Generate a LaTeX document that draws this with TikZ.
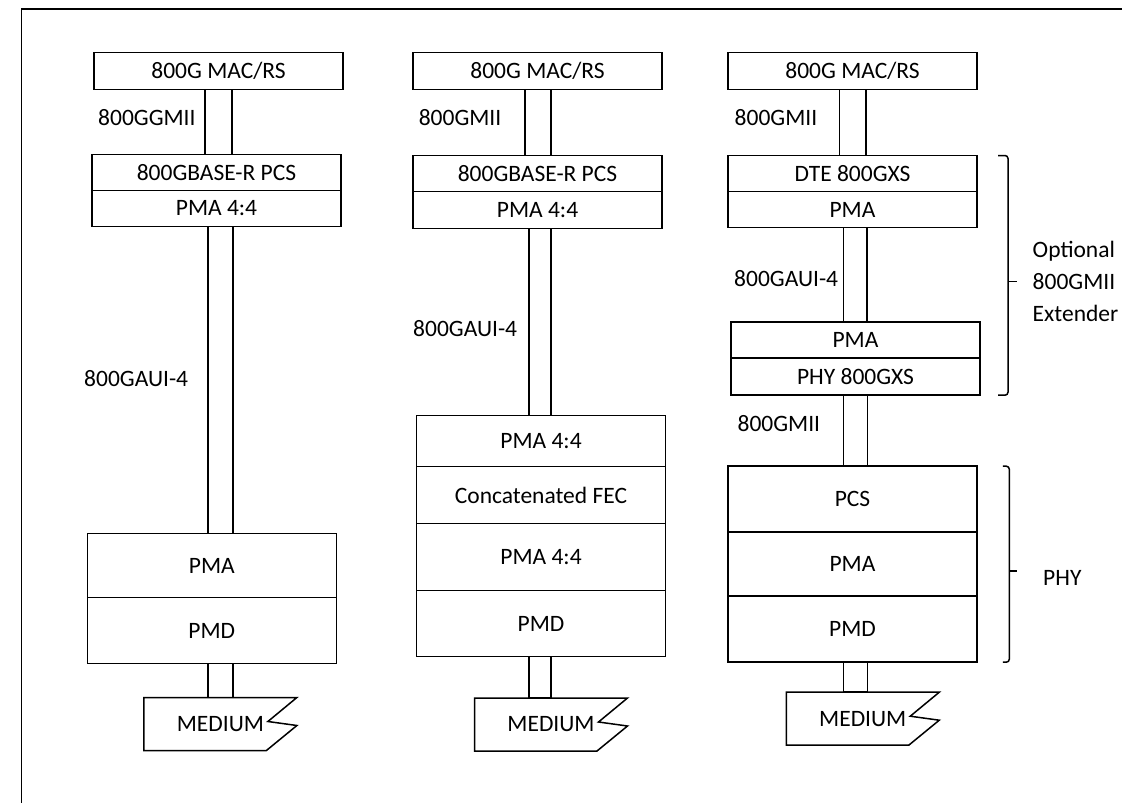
\documentclass[tikz,border=0pt]{standalone}
\usepackage{fontspec}
\setmainfont{Carlito}
\usetikzlibrary{positioning,calc}
\newcommand{\mediumoutline}[1]{%
  \draw[bar] (#1.north west) -- (#1.north east) -- ++(-29,24) -- ++(29,4)
    -- ($(#1.south east)+(-30.5,0)$) -- (#1.south west) -- cycle;}

\begin{document}
\begin{tikzpicture}[
  x=1pt, y=-1pt,
  font=\fontsize{23.5}{32}\selectfont,
  layer/.style={draw,line width=1.5pt,minimum width=249pt,inner sep=0pt,
                outer sep=0pt,align=center},
  slim/.style={layer,minimum height=36pt},
  bar/.style={draw,line width=1.5pt},
  iflabel/.style={anchor=west,inner sep=0pt},
  medium/.style={minimum width=153pt,minimum height=53pt,inner sep=0pt,outer sep=0pt},
  brace/.style={draw,line width=1.5pt,rounded corners=3pt}
]
\useasboundingbox (0,0) rectangle (1122,803);
\draw[bar] (21.5,803) -- (21.5,9) -- (1122,9);

% first stack
\node[slim,minimum height=37pt] (mac1) at (218.5,71) {800G MAC/RS};
\node[slim,below=65pt of mac1,xshift=-2pt] (pcs1) {800GBASE-R PCS};
\node[slim,below=0pt of pcs1] (pma1) {PMA 4:4};
\node[layer,minimum height=64pt,below=307pt of pma1,xshift=-4.7pt] (pmaa1) {PMA};
\node[layer,minimum height=66pt,below=0pt of pmaa1] (pmd1) {PMD};
\node[medium,below=34pt of pmd1,xshift=8.6pt] (med1) {MEDIUM};
\mediumoutline{med1}

\draw[bar] (205,0 |- mac1.south) rectangle (232,0 |- pcs1.north);
\draw[bar] (208,0 |- pma1.south) rectangle (233,0 |- pmaa1.north);
\draw[bar] (208,0 |- pmd1.south) rectangle (233,0 |- med1.north);

\node[iflabel] (gmii1) at (98,118) {800GGMII};
\node[iflabel] (aui1) at (84,379) {800GAUI-4};

% second stack
\node[slim,minimum height=37pt] (mac2) at (537.5,71) {800G MAC/RS};
\node[slim,below=66pt of mac2] (pcs2) {800GBASE-R PCS};
\node[slim,minimum height=37pt,below=0pt of pcs2] (pma2) {PMA 4:4};
\node[layer,minimum height=51pt,below=187pt of pma2,xshift=3.5pt] (pmab2) {PMA 4:4};
\node[layer,minimum height=57pt,below=0pt of pmab2] (fec2) {Concatenated FEC};
\node[layer,minimum height=67pt,below=0pt of fec2] (pmac2) {PMA 4:4};
\node[layer,minimum height=66pt,below=0pt of pmac2] (pmd2) {PMD};
\node[medium,below=41.5pt of pmd2,xshift=10pt] (med2) {MEDIUM};
\mediumoutline{med2}

\draw[bar] (525,0 |- mac2.south) rectangle (551,0 |- pcs2.north);
\draw[bar] (529,0 |- pma2.south) rectangle (551,0 |- pmab2.north);
\draw[bar] (529,0 |- pmd2.south) rectangle (551,0 |- med2.north);

\node[iflabel] (gmii2) at (418.6,118) {800GMII};
\node[iflabel] (aui2) at (413,329) {800GAUI-4};

% third stack
\node[slim,minimum height=37pt] (mac3) at (852.5,71) {800G MAC/RS};
\node[slim,below=66pt of mac3] (dte3) {DTE 800GXS};
\node[slim,below=0pt of dte3] (pmaa3) {PMA};
\node[slim,below=94.7pt of pmaa3,xshift=3pt] (pmab3) {PMA};
\node[slim,minimum height=37pt,below=0pt of pmab3] (phy3) {PHY 800GXS};
\node[layer,minimum height=66pt,below=71pt of phy3,xshift=-3pt] (pcs3) {PCS};
\node[layer,minimum height=64pt,below=0pt of pcs3] (pmac3) {PMA};
\node[layer,minimum height=66pt,below=0pt of pmac3] (pmd3) {PMD};
\node[medium,below=30pt of pmd3,xshift=10.25pt] (med3) {MEDIUM};
\mediumoutline{med3}

\draw[bar] (839.7,0 |- mac3.south) rectangle (865.8,0 |- dte3.north);
\draw[bar] (843.6,0 |- pmaa3.south) rectangle (867,0 |- pmab3.north);
\draw[bar] (843.6,0 |- phy3.south) rectangle (867.3,0 |- pcs3.north);
\draw[bar] (843.6,0 |- pmd3.south) rectangle (867.3,0 |- med3.north);

\node[iflabel] (gmii3) at (734.5,118) {800GMII};
\node[iflabel] (aui3) at (734,279) {800GAUI-4};
\node[iflabel] (gmii4) at (737.4,423.5) {800GMII};

% braces
\draw[brace] (998,0 |- dte3.north) -- (1008,0 |- dte3.north) -- (1008,0 |- phy3.south) -- (998,0 |- phy3.south);
\draw[bar] (1008,281.6) -- (1017,281.6);
\node[iflabel,align=left] (extlbl) at (1032.5,281.6) {Optional\\800GMII\\Extender};

\draw[brace] (1002.8,0 |- pcs3.north) -- (1009.3,0 |- pcs3.north) -- (1009.3,0 |- pmd3.south) -- (1002.8,0 |- pmd3.south);
\draw[bar] (1009.3,571) -- (1017,571);
\node[iflabel] (phylbl) at (1043,578) {PHY};
\end{tikzpicture}
\end{document}
